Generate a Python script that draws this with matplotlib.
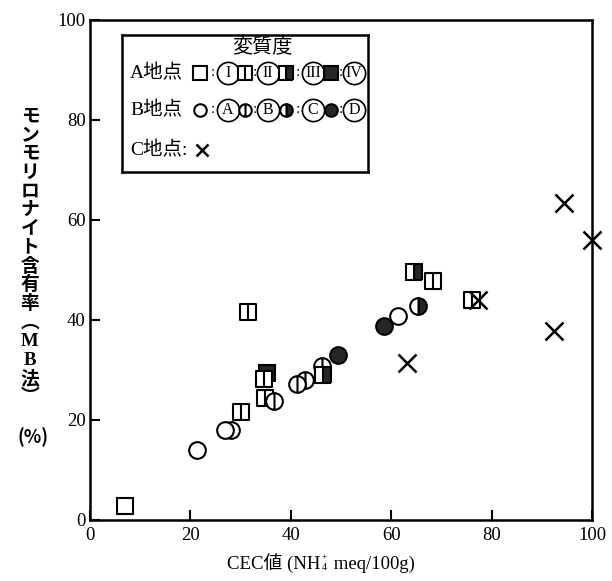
import matplotlib.pyplot as plt
from matplotlib.path import Path

plt.rcParams['font.family'] = ['Liberation Serif', 'Noto Sans CJK JP']

# A地点 (squares), one pair of lists per 変質度 class
a1_x = [7.0]
a1_y = [2.8]
a2_x = [31.5, 34.7, 34.9, 30.1, 68.4, 76.0]
a2_y = [41.6, 28.2, 24.4, 21.6, 47.8, 44.0]
a3_x = [46.5, 64.6]
a3_y = [29.0, 49.6]
a4_x = [35.3]
a4_y = [29.4]

# B地点 (circles)
b1_x = [21.4, 28.0, 26.8, 61.4]
b1_y = [14.0, 18.1, 18.0, 40.8]
b2_x = [36.7, 42.8, 41.2, 46.2]
b2_y = [23.8, 28.0, 27.2, 30.8]
b3_x = [65.4]
b3_y = [42.8]
b4_x = [49.4, 58.6]
b4_y = [33.0, 38.8]

# C地点 (crosses)
c_x = [63.2, 77.2, 92.4, 94.4, 100.0]
c_y = [31.4, 44.0, 37.8, 63.4, 56.0]

ticks = [0, 20, 40, 60, 80, 100]
ylabel_chars = ['モ', 'ン', 'モ', 'リ', 'ロ', 'ナ', 'イ', 'ト', '含', '有', '率',
                '︵', 'M', 'B', '法', '︶']

DARK = '#262626'
MS = 12

# square / circle with a vertical bar through the middle
split_sq = Path([(-1, -1), (1, -1), (1, 1), (-1, 1), (-1, -1), (0, -1), (0, 1)],
                [Path.MOVETO, Path.LINETO, Path.LINETO, Path.LINETO,
                 Path.CLOSEPOLY, Path.MOVETO, Path.LINETO])
split_circ = Path.make_compound_path(Path.unit_circle(),
                                     Path([(0, -1), (0, 1)]))

styles = {
    'I':   dict(marker='s', mfc='white'),
    'II':  dict(marker=split_sq, mfc='white'),
    'III': dict(marker='s', fillstyle='right', mfc=DARK, mfcalt='white'),
    'IV':  dict(marker='s', mfc=DARK),
    'A':   dict(marker='o', mfc='white'),
    'B':   dict(marker=split_circ, mfc='white'),
    'C':   dict(marker='o', fillstyle='right', mfc=DARK, mfcalt='white'),
    'D':   dict(marker='o', mfc=DARK),
}


def draw(ax, x, y, kind, ms=MS, **kw):
    ax.plot(x, y, ls='none', mec='black', mew=1.5, ms=ms,
            clip_on=False, **styles[kind], **kw)


fig = plt.figure(figsize=(6.12, 5.81), dpi=100)
ax = fig.add_axes([90 / 612, 61 / 581, 502 / 612, 500 / 581])

draw(ax, a4_x, a4_y, 'IV')
draw(ax, a2_x, a2_y, 'II')
draw(ax, b2_x, b2_y, 'B')
draw(ax, a3_x, a3_y, 'III')
draw(ax, b4_x, b4_y, 'D')
draw(ax, b3_x, b3_y, 'C')
draw(ax, b1_x, b1_y, 'A')
draw(ax, a1_x, a1_y, 'I')
ax.plot(c_x, c_y, ls='none', marker='x', ms=13, mew=1.8, color='black',
        clip_on=False)

ax.set_xlim(0, 100)
ax.set_ylim(0, 100)
ax.set_xticks(ticks)
ax.set_yticks(ticks)
ax.tick_params(direction='in', length=7, width=1.5, labelsize=13.5, pad=5)
ax.tick_params(axis='y', pad=3)
for sp in ax.spines.values():
    sp.set_linewidth(1.8)

# vertical y-axis title, one character per row
top, step = 117, 18.7
for i, ch in enumerate(ylabel_chars):
    fig.text(30 / 612, 1 - (top + i * step) / 581, ch, ha='center',
             va='center', fontsize=13.5, fontweight='bold')
fig.text(33 / 612, 1 - 437 / 581, '(%)', ha='center', va='center',
         fontsize=13, fontweight='bold', family='Noto Sans CJK JP')

# x-axis title with stacked NH4+ scripts
t1 = fig.text(227 / 612, 8 / 581, 'CEC値 (NH', ha='left', va='bottom',
              fontsize=13.5)
ax.annotate('+', xy=(1, 0.78), xycoords=t1, xytext=(1, 0),
            textcoords='offset points', ha='left', va='center', fontsize=7)
ax.annotate('4', xy=(1, 0.3), xycoords=t1, xytext=(1, 0),
            textcoords='offset points', ha='left', va='center', fontsize=7)
ax.annotate(' meq/100g)', xy=(1, 0), xycoords=t1, xytext=(6, 0),
            textcoords='offset points', ha='left', va='bottom',
            fontsize=13.5)

# key box
leg = fig.add_axes([122 / 612, 1 - 172 / 581, 246 / 612, 137 / 581])
leg.set_xlim(0, 1)
leg.set_ylim(0, 1)
leg.set_xticks([])
leg.set_yticks([])
for sp in leg.spines.values():
    sp.set_linewidth(1.8)

leg.text(0.569, 0.905, '変質度', ha='center', va='center', fontsize=14.5)

row_a, row_b, row_c = 0.723, 0.453, 0.16
leg.text(0.033, row_a, 'A地点', ha='left', va='center', fontsize=14)
leg.text(0.033, row_b, 'B地点', ha='left', va='center', fontsize=14)
leg.text(0.033, row_c, 'C地点:', ha='left', va='center', fontsize=14)

sym_x = [0.317, 0.5, 0.667, 0.85]
colon_x = [0.37, 0.541, 0.715, 0.89]
circ_x = [0.431, 0.593, 0.776, 0.943]
for row, kinds, ms in [(row_a, ['I', 'II', 'III', 'IV'], 9.5),
                       (row_b, ['A', 'B', 'C', 'D'], 9)]:
    for sx, cx, qx, kind in zip(sym_x, colon_x, circ_x, kinds):
        draw(leg, [sx], [row], kind, ms=ms)
        leg.text(cx, row, ':', ha='center', va='center', fontsize=11)
        leg.plot([qx], [row], ls='none', marker='o', ms=16, mfc='white',
                 mec='black', mew=1.2)
        leg.text(qx, row, kind, ha='center', va='center', fontsize=11.5)
leg.plot([0.325], [row_c], ls='none', marker='x', ms=9, mew=1.8,
         color='black')

fig.savefig('out.png', dpi=100)
